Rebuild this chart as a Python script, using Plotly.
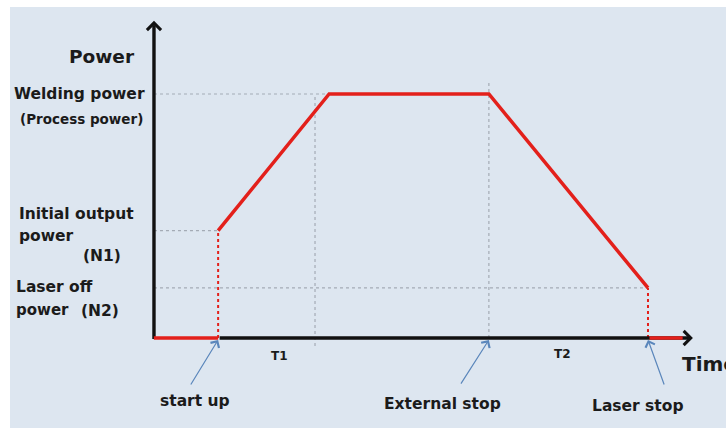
import plotly.graph_objects as go

# ---- data (schematic units: time 0..84, power % of welding power) ----
profile_time = [10, 27.3, 52.2, 77]
profile_power = [44, 100, 100, 20.5]
welding_power = 100
initial_power = 44
laser_off_power = 20.5
t_start, t_ramp_end, t_ext_stop, t_laser_stop = 10, 27.3, 52.2, 77
t_guide = 25.1
t_axis_end = 84
p_axis_end = 130
event_labels = ["start up", "External stop", "Laser stop"]
event_times = [t_start, t_ext_stop, t_laser_stop]

RED = "#e3201b"
GRID = "#a4abb5"
BLUE = "#5a86bb"
TXT = "#1b1b1b"
FONT = "DejaVu Sans"

fig = go.Figure()

# guide lines
def guide(x, y):
    fig.add_trace(go.Scatter(x=x, y=y, mode="lines",
                             line=dict(color=GRID, width=1.2, dash="dot"),
                             hoverinfo="skip", showlegend=False))

guide([0, t_ramp_end], [welding_power, welding_power])
guide([0, t_start], [initial_power, initial_power])
guide([0, t_laser_stop], [laser_off_power, laser_off_power])
guide([t_guide, t_guide], [-3.3, welding_power])
guide([t_ext_stop, t_ext_stop], [0, 105.7])

# red dotted verticals
for tx, py in [(t_start, initial_power), (t_laser_stop, laser_off_power)]:
    fig.add_trace(go.Scatter(x=[tx, tx], y=[0, py], mode="lines",
                             line=dict(color=RED, width=2, dash="dot"),
                             hoverinfo="skip", showlegend=False))

# power profile
fig.add_trace(go.Scatter(x=profile_time, y=profile_power, mode="lines",
                         line=dict(color=RED, width=3.5), showlegend=False))

ann = []
# axes with arrowheads
ann.append(dict(x=t_axis_end, y=0, ax=t_start, ay=0, xref="x", yref="y",
                axref="x", ayref="y", showarrow=True, arrowhead=4, arrowsize=0.8,
                arrowwidth=3.4, arrowcolor="#111111", text=""))
ann.append(dict(x=0, y=p_axis_end, ax=0, ay=-1, xref="x", yref="y",
                axref="x", ayref="y", showarrow=True, arrowhead=4, arrowsize=0.8,
                arrowwidth=3.4, arrowcolor="#111111", text=""))
# red baseline segments on top of black axis
ann.append(dict(x=t_axis_end - 1.6, y=0, ax=t_laser_stop, ay=0, xref="x", yref="y",
                axref="x", ayref="y", showarrow=True, arrowhead=0,
                arrowwidth=3.4, arrowcolor=RED, text=""))
ann.append(dict(x=t_start, y=0, ax=-0.25, ay=0, xref="x", yref="y",
                axref="x", ayref="y", showarrow=True, arrowhead=0,
                arrowwidth=3.4, arrowcolor=RED, text=""))

# event arrows
tails = [(5.6, -19.7), (47.7, -19.3), (79.6, -19.7)]
for tx, (axx, ayy) in zip(event_times, tails):
    ann.append(dict(x=tx, y=-0.8, ax=axx, ay=ayy, xref="x", yref="y",
                    axref="x", ayref="y", showarrow=True, arrowhead=4,
                    arrowsize=1.6, arrowwidth=1.2, arrowcolor=BLUE, text=""))

def label(text, x, y, size=15.5, xanchor="center"):
    ann.append(dict(x=x, y=y, xref="x", yref="y", text=text, showarrow=False,
                    xanchor=xanchor, yanchor="middle",
                    font=dict(family=FONT, size=size, color=TXT)))

label("<b>Power</b>", -2.65, 115.2, 18.5, "right")
label("<b>Welding power</b>", -1.09, 100, 15.5, "right")
label("<b>(Process power)</b>", -1.4, 89.8, 13.5, "right")
label("<b>Initial output</b>", -21.35, 50.8, 15.5, "left")
label("<b>power</b>", -21.35, 41.8, 15.5, "left")
label("<b>(N1)</b>", -4.83, 33.6, 15.5, "right")
label("<b>Laser off</b>", -21.8, 20.9, 15.5, "left")
label("<b>power</b>", -21.8, 11.5, 15, "left")
label("<b>(N2)</b>", -5.1, 11.1, 15.5, "right")
label("<b>T1</b>", 19.6, -7.4, 12)
label("<b>T2</b>", 63.6, -6.6, 12)
label("<b>Time</b>", 82.0, -10.7, 20, "left")
label("<b>start up</b>", 6.4, -25.8, 15.5)
label("<b>External stop</b>", 44.9, -27.0, 15.5)
label("<b>Laser stop</b>", 75.4, -27.9, 15.5)

fig.update_layout(
    width=726, height=428,
    margin=dict(l=0, r=0, t=0, b=0),
    paper_bgcolor="white",
    plot_bgcolor="rgba(0,0,0,0)",
    xaxis=dict(range=[-24.0, 89.16], visible=False, fixedrange=True),
    yaxis=dict(range=[-36.89, 138.52], visible=False, fixedrange=True),
    annotations=ann,
    shapes=[dict(type="rect", xref="paper", yref="paper",
                 x0=10 / 726, x1=1.0, y0=0, y1=1 - 7 / 428,
                 fillcolor="#dde6f0", line=dict(width=0), layer="below")],
    showlegend=False,
)

fig.write_html("out.html", config={"displayModeBar": False},
               post_script="document.body.style.margin='0px';document.body.style.overflow='hidden';")
